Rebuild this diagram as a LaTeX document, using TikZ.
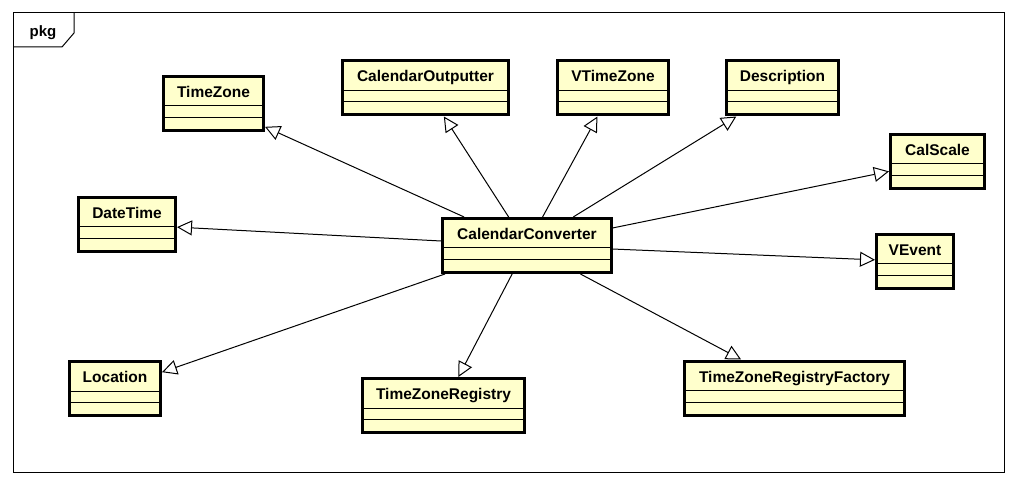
\documentclass[tikz,border=0pt]{standalone}
\usepackage{fontspec}
\setmainfont{Liberation Sans}
\usetikzlibrary{arrows.meta,calc}
\definecolor{clsfill}{HTML}{FFFFCC}
\tikzset{
  cls/.style={draw=black, fill=clsfill, line width=3pt, minimum height=54pt, inner sep=0pt, rectangle},
  ttl/.style={font=\bfseries\fontsize{15.5}{18}\selectfont, anchor=center, yshift=10pt, inner sep=0pt, text height=11pt, text depth=3pt},
  gen/.style={line width=1pt, -{Triangle[open, length=15pt, width=15pt]}},
  divider/.style={line width=1pt}
}
\newcommand{\dividers}[1]{%
  \draw[divider] ($(#1.west)+(1.5,2.5)$) -- ($(#1.east)+(-1.5,2.5)$);
  \draw[divider] ($(#1.west)+(1.5,14)$) -- ($(#1.east)+(-1.5,14)$);
}
\begin{document}
\begin{tikzpicture}[x=1pt, y=-1pt]
\useasboundingbox (0,0) rectangle (1017,486);
\fill[white] (0,0) rectangle (1017,486);
% frame
\draw[line width=1pt] (13,13) rectangle (1004,472);
\draw[line width=1pt] (74,13) -- (74,33) -- (62,47) -- (13,47);
\node[font=\bfseries\fontsize{15}{18}\selectfont, anchor=base, inner sep=0pt] (pkg) at (43,37) {pkg};
% classes
\node[cls, minimum width=100pt, label={[ttl]center:TimeZone}] (tz) at (213.5,103.5) {};
\node[cls, minimum width=166pt, label={[ttl]center:CalendarOutputter}] (co) at (425.5,88) {};
\node[cls, minimum width=111pt, label={[ttl]center:VTimeZone}] (vtz) at (613,88) {};
\node[cls, minimum width=112pt, label={[ttl]center:Description}] (desc) at (782.5,88) {};
\node[cls, minimum width=94pt, label={[ttl]center:CalScale}] (cs) at (937.5,161.5) {};
\node[cls, minimum width=97pt, label={[ttl]center:DateTime}] (dt) at (127,224.5) {};
\node[cls, minimum width=169pt, label={[ttl]center:CalendarConverter}] (cc) at (527,245.5) {};
\node[cls, minimum width=77pt, label={[ttl]center:VEvent}] (ve) at (915,261.5) {};
\node[cls, minimum width=91pt, label={[ttl]center:Location}] (loc) at (115,388.5) {};
\node[cls, minimum width=162pt, label={[ttl]center:TimeZoneRegistry}] (tzr) at (443.5,405.5) {};
\node[cls, minimum width=220pt, label={[ttl]center:TimeZoneRegistryFactory}] (tzrf) at (794.5,388) {};
\foreach \n in {tz,co,vtz,desc,cs,dt,cc,ve,loc,tzr,tzrf}{\dividers{\n}}
% generalizations
\draw[gen] (cc) -- (tz);
\draw[gen] (cc) -- (co);
\draw[gen] (cc) -- (vtz);
\draw[gen] (cc) -- (desc);
\draw[gen] (cc) -- (cs);
\draw[gen] (cc) -- (dt);
\draw[gen] (cc) -- (ve);
\draw[gen] (cc) -- (loc);
\draw[gen] (cc) -- (tzr);
\draw[gen] (cc) -- (tzrf);
\end{tikzpicture}
\end{document}
